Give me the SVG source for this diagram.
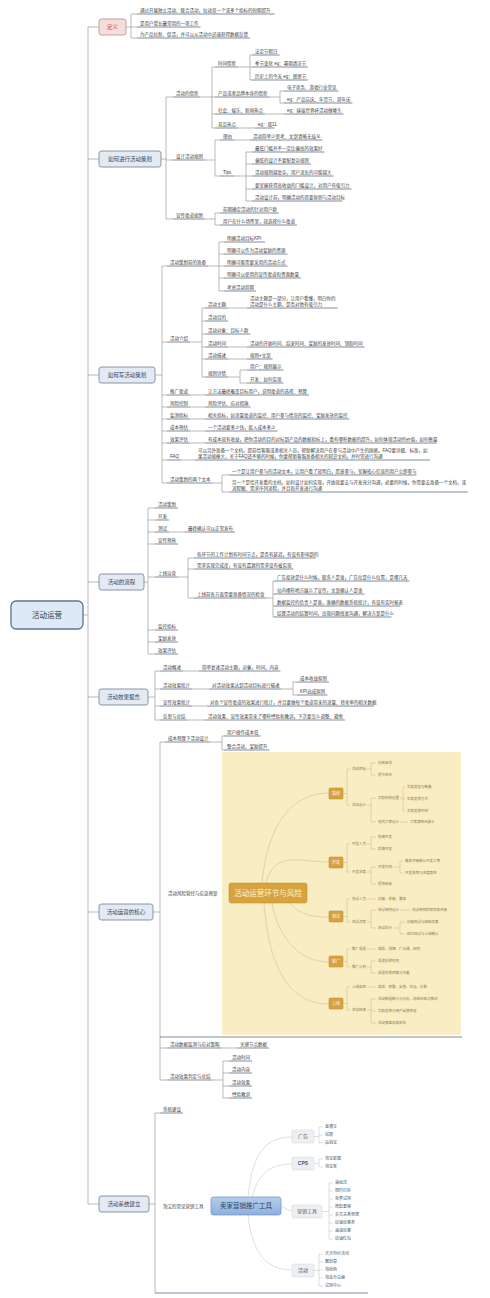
<svg xmlns="http://www.w3.org/2000/svg" width="490" height="1298" viewBox="0 0 490 1298">
<style>
text{font-family:'Liberation Sans','Noto Sans CJK SC',sans-serif}
.t{font-size:4.5px;fill:#3b3b3b}
.h{font-size:5.5px;fill:#2e3f57;text-anchor:middle}
.b{fill:#e3eaf3;stroke:#7a8ba2;stroke-width:0.9}
.u{stroke:#5d6f87;stroke-width:0.8;fill:none}
.c{stroke:#9b9b9b;stroke-width:0.7;fill:none}
.y{font-size:3.5px;fill:#8b7a52}
.yc{stroke:#cbb68a;stroke-width:0.5;fill:none}
.yb{fill:#d6a33f;stroke:#bf8b2b;stroke-width:0.5}
.yt{font-size:4px;fill:#fff8e6;text-anchor:middle}
.gb{fill:#edf0f3;stroke:#cfd5dc;stroke-width:0.5}
.g{font-size:4px;fill:#555}
.gl{font-size:5px;fill:#555;text-anchor:middle}
.gc{stroke:#c4c9cf;stroke-width:0.6;fill:none}
</style>
<rect width="490" height="1298" fill="#ffffff"/>

<g id="connectors">
<path class="c" d="M83 615 H88 M88 27 V1204 M88 27 H99 M88 159 H99 M88 375 H99 M88 582 H99 M88 697 H99 M88 912 H99 M88 1204 H99"/>
<path class="c" d="M126 27 H131 M131 14 V38 M131 14 H137 M131 27 H137 M131 38 H137"/>
<path class="c" d="M161 159 H166 M166 97 V219 M166 97 H173 M166 160 H173 M166 219 H173"/>
<path class="c" d="M200.5 97 H212 M212 67 V128 M212 67 H215 M212 97 H215 M212 114 H215 M212 128 H215"/>
<path class="c" d="M238 67 H250 M250 55 V80 M250 55 H252 M250 67 H252 M250 80 H252"/>
<path class="c" d="M269.5 97 H280 M280 91 V103 M280 91 H284 M280 103 H284"/>
<path class="c" d="M265 114 H284 M238 128 H255"/>
<path class="c" d="M205 160 H215 M215 140 V176 M215 140 H220 M215 176 H220 M234 140 H250"/>
<path class="c" d="M234 176 H246 M246 152 V201 M246 152 H252 M246 164 H252 M246 176 H252 M246 189 H252 M246 201 H252"/>
<path class="c" d="M205 219 H215 M215 213 V225 M215 213 H220 M215 225 H220"/>
<path class="c" d="M155 375 H162 M162 266 V483 M162 266 H167 M162 342 H167 M162 395 H167 M162 407 H167 M162 419 H167 M162 431 H167 M162 443 H167 M162 460 H167 M162 483 H167"/>
<path class="c" d="M208 266 H219 M219 242 V291 M219 242 H224 M219 254 H224 M219 266 H224 M219 278 H224 M219 291 H224"/>
<path class="c" d="M190 342 H202 M202 308 V377 M202 308 H205 M202 321 H205 M202 334 H205 M202 347 H205 M202 359 H205 M202 377 H205"/>
<path class="c" d="M228 308 H247 M228 347 H247 M228 359 H247 M228 377 H240 M240 370 V383 M240 370 H247 M240 383 H247"/>
<path class="c" d="M190 395 H205 M190 407 H205 M190 419 H205 M190 431 H205 M190 443 H205 M181 460 H195"/>
<path class="c" d="M212.5 483 H222 M222 475 V492 M222 475 H229 M222 492 H229"/>
<path class="c" d="M144 582 H148 M148 508 V654 M148 508 H155 M148 520 H155 M148 532 H155 M148 544 H155 M148 577 H155 M148 630 H155 M148 642 H155 M148 654 H155"/>
<path class="c" d="M169 532 H185 M178 577 H188 M188 558 V598 M188 558 H194 M188 569 H194 M188 598 H194"/>
<path class="c" d="M266.5 598 H273 M273 581 V617 M273 581 H274 M273 594 H274 M273 606 H274 M273 617 H274"/>
<path class="c" d="M148 697 H155 M155 671 V720 M155 671 H160 M155 689 H160 M155 706 H160 M155 720 H160"/>
<path class="c" d="M183 671 H199 M192 689 H209 M281.5 689 H293 M293 682 V695 M293 682 H297 M293 695 H297 M192 706 H207 M187.5 720 H205"/>
<path class="c" d="M153 912 H160 M160 742 V1080 M160 742 H165 M160 1048 H167 M160 1080 H167"/>
<path class="c" d="M210.5 742 H222 M222 736 V750 M222 736 H224 M222 750 H224 M221.5 1048 H237"/>
<path class="c" d="M212.5 1080 H223 M223 1061 V1098 M223 1061 H229 M223 1073 H229 M223 1086 H229 M223 1098 H229"/>
<path class="c" d="M149 1204 H155 M155 1113 V1293 M155 1113 H160"/>
</g>

<g id="root">
<rect x="11" y="601" width="72" height="28" rx="5" fill="#dde9f6" stroke="#5f7491" stroke-width="1.3"/>
<text x="47" y="618" style="font-size:7.5px;fill:#2e3f57;text-anchor:middle">活动运营</text>
</g>

<g id="n-def">
<rect x="99" y="19" width="27" height="16" rx="2.5" fill="#f7dcdc" stroke="#b99b9b" stroke-width="0.9"/>
<text x="112.5" y="29" class="h" style="fill:#c0392b">定义</text>
</g>
<g id="n-def-1"><text class="t" x="140" y="11.6">通过开展独立活动、联合活动，拉动某一个或多个指标的短期提升</text><path class="u" d="M137 14 H274.5"/></g>
<g id="n-def-2"><text class="t" x="140" y="24.6">是用户增长最常用的一项工作</text><path class="u" d="M137 27 H200.5"/></g>
<g id="n-def-3"><text class="t" x="140" y="35.6">为产品拉新、促活，并可以从活动中迅速获得数据反馈</text><path class="u" d="M137 38 H250"/></g>

<g id="n-plan">
<rect class="b" x="99" y="151" width="62" height="16" rx="2.5"/>
<text x="130" y="161" class="h">如何进行活动策划</text>
</g>
<g id="n-plan-a"><text class="t" x="176" y="94.6">活动的借势</text><path class="u" d="M173 97 H200.5"/></g>
<g id="n-plan-a1"><text class="t" x="218" y="64.6">时间借势</text><path class="u" d="M215 67 H238"/></g>
<g id="n-plan-a1-1"><text class="t" x="255" y="52.6">法定节假日</text><path class="u" d="M252 55 H279.5"/></g>
<g id="n-plan-a1-2"><text class="t" x="255" y="64.6">季节变化 eg：暑期清凉节</text><path class="u" d="M252 67 H308"/></g>
<g id="n-plan-a1-3"><text class="t" x="255" y="77.6">历史上的今天 eg：感恩节</text><path class="u" d="M252 80 H308"/></g>
<g id="n-plan-a2"><text class="t" x="218" y="94.6">产品或者品牌本身的借势</text><path class="u" d="M215 97 H269.5"/></g>
<g id="n-plan-a2-1"><text class="t" x="287" y="88.6">电子商务、游戏行业常见</text><path class="u" d="M284 91 H338.5"/></g>
<g id="n-plan-a2-2"><text class="t" x="287" y="100.6">eg：产品店庆、年货节、周年庆</text><path class="u" d="M284 103 H352.5"/></g>
<g id="n-plan-a3"><text class="t" x="218" y="111.6">社会、娱乐、新闻热点</text><path class="u" d="M215 114 H265"/></g>
<g id="n-plan-a3-1"><text class="t" x="287" y="111.6">eg：嫁接世界杯活动做噱头</text><path class="u" d="M284 114 H343.5"/></g>
<g id="n-plan-a4"><text class="t" x="218" y="125.6">竞品热点</text><path class="u" d="M215 128 H238"/></g>
<g id="n-plan-a4-1"><text class="t" x="258" y="125.6">eg：双11</text><path class="u" d="M255 128 H274.5"/></g>
<g id="n-plan-b"><text class="t" x="176" y="157.6">设计活动规则</text><path class="u" d="M173 160 H205"/></g>
<g id="n-plan-b1"><text class="t" x="223" y="137.6">理由</text><path class="u" d="M220 140 H234"/></g>
<g id="n-plan-b1-1"><text class="t" x="253" y="137.6">活动简单少思考、文案清晰无歧义</text><path class="u" d="M250 140 H322.5"/></g>
<g id="n-plan-b2"><text class="t" x="223" y="173.6">Tips</text><path class="u" d="M220 176 H234"/></g>
<g id="n-plan-b2-1"><text class="t" x="255" y="149.6">最低门槛并不一定比偏高的效果好</text><path class="u" d="M252 152 H324.5"/></g>
<g id="n-plan-b2-2"><text class="t" x="255" y="161.6">偏低的设计不要配复杂规则</text><path class="u" d="M252 164 H311"/></g>
<g id="n-plan-b2-3"><text class="t" x="255" y="173.6">活动规则越复杂，用户流失的可能越大</text><path class="u" d="M252 176 H333.5"/></g>
<g id="n-plan-b2-4"><text class="t" x="255" y="186.6">要掌握获得高收益的门槛设计，对用户有吸引力</text><path class="u" d="M252 189 H351.5"/></g>
<g id="n-plan-b2-5"><text class="t" x="255" y="198.6">活动设计前，明确活动的首要原则与活动目标</text><path class="u" d="M252 201 H342.5"/></g>
<g id="n-plan-c"><text class="t" x="176" y="216.6">宣传渠道规划</text><path class="u" d="M173 219 H205"/></g>
<g id="n-plan-c1"><text class="t" x="223" y="210.6">前期确定活动的针对用户群</text><path class="u" d="M220 213 H279"/></g>
<g id="n-plan-c2"><text class="t" x="223" y="222.6">用户在什么场所里，就选择什么渠道</text><path class="u" d="M220 225 H297"/></g>

<g id="n-write">
<rect class="b" x="99" y="367" width="56" height="16" rx="2.5"/>
<text x="127" y="377" class="h">如何写活动策划</text>
</g>
<g id="n-write-p"><text class="t" x="170" y="263.6">活动策划前的准备</text><path class="u" d="M167 266 H208"/></g>
<g id="n-write-p1"><text class="t" x="227" y="239.6">明确活动目标KPI</text><path class="u" d="M224 242 H265"/></g>
<g id="n-write-p2"><text class="t" x="227" y="251.6">明确可以作为活动奖励的资源</text><path class="u" d="M224 254 H287.5"/></g>
<g id="n-write-p3"><text class="t" x="227" y="263.6">明确可能需要采用的活动方式</text><path class="u" d="M224 266 H287.5"/></g>
<g id="n-write-p4"><text class="t" x="227" y="275.6">明确可以使用的宣传渠道和资源数量</text><path class="u" d="M224 278 H301"/></g>
<g id="n-write-p5"><text class="t" x="227" y="288.6">考虑活动周期</text><path class="u" d="M224 291 H256"/></g>
<g id="n-write-q"><text class="t" x="170" y="339.6">活动介绍</text><path class="u" d="M167 342 H190"/></g>
<g id="n-write-q1"><text class="t" x="208" y="305.6">活动主题</text><path class="u" d="M205 308 H228"/></g>
<g id="n-write-q1-1"><text class="t" x="250" y="299.5">活动主题是一部分，让用户看懂，明白你的</text><text class="t" x="250" y="305.5">活动是什么主题，是否对他有吸引力</text><path class="u" d="M247 308 H337.5"/></g>
<g id="n-write-q2"><text class="t" x="208" y="318.6">活动目的</text><path class="u" d="M205 321 H228"/></g>
<g id="n-write-q3"><text class="t" x="208" y="331.6">活动对象：目标人群</text><path class="u" d="M205 334 H250.5"/></g>
<g id="n-write-q4"><text class="t" x="208" y="344.6">活动时间</text><path class="u" d="M205 347 H228"/></g>
<g id="n-write-q4-1"><text class="t" x="250" y="344.6">活动的开始时间、结束时间、奖励的发放时间、领取时间</text><path class="u" d="M247 347 H364.5"/></g>
<g id="n-write-q5"><text class="t" x="208" y="356.6">活动描述</text><path class="u" d="M205 359 H228"/></g>
<g id="n-write-q5-1"><text class="t" x="250" y="356.6">规则+文案</text><path class="u" d="M247 359 H272.6"/></g>
<g id="n-write-q6"><text class="t" x="208" y="374.6">规则详情</text><path class="u" d="M205 377 H228"/></g>
<g id="n-write-q6-1"><text class="t" x="250" y="367.6">用户：规则展示</text><path class="u" d="M247 370 H283.5"/></g>
<g id="n-write-q6-2"><text class="t" x="250" y="380.6">开发：如何实现</text><path class="u" d="M247 383 H283.5"/></g>
<g id="n-write-r"><text class="t" x="170" y="392.6">推广渠道</text><path class="u" d="M167 395 H190"/></g>
<g id="n-write-r1"><text class="t" x="208" y="392.6">让方法最终覆盖目标用户，说明渠道的选择、预算</text><path class="u" d="M205 395 H309"/></g>
<g id="n-write-s"><text class="t" x="170" y="404.6">风险控制</text><path class="u" d="M167 407 H190"/></g>
<g id="n-write-s1"><text class="t" x="208" y="404.6">风险评估、应对措施</text><path class="u" d="M205 407 H250.5"/></g>
<g id="n-write-t"><text class="t" x="170" y="416.6">监测指标</text><path class="u" d="M167 419 H190"/></g>
<g id="n-write-t1"><text class="t" x="208" y="416.6">相关指标，如流量渠道的监控、用户参与情况的监控、奖励发放的监控</text><path class="u" d="M205 419 H349.5"/></g>
<g id="n-write-u"><text class="t" x="170" y="428.6">成本预估</text><path class="u" d="M167 431 H190"/></g>
<g id="n-write-u1"><text class="t" x="208" y="428.6">一个活动要多少钱，投入成本多少</text><path class="u" d="M205 431 H277.5"/></g>
<g id="n-write-v"><text class="t" x="170" y="440.6">效果评估</text><path class="u" d="M167 443 H190"/></g>
<g id="n-write-v1"><text class="t" x="208" y="440.6">有成本就有收益，把你活动的目的对标到产品的数据指标上，看有哪些数据的提升，如何体现活动的价值，如何衡量</text><path class="u" d="M205 443 H437"/></g>
<g id="n-write-w"><text class="t" x="170" y="457.6">FAQ</text><path class="u" d="M167 460 H181"/></g>
<g id="n-write-w1"><text class="t" x="198" y="451.5">可以另外准备一个文档，提前给客服或者相关人员，帮助解决用户在参与活动中产生的困惑。FAQ要详细、标准，如</text><text class="t" x="198" y="457.5">果活动规模大，关于FAQ还不够的时候，你要帮助客服准备相关的知识文档，并时常进行沟通</text><path class="u" d="M195 460 H430"/></g>
<g id="n-write-x"><text class="t" x="170" y="480.6">活动策划的两个文本</text><path class="u" d="M167 483 H212.5"/></g>
<g id="n-write-x1"><text class="t" x="232" y="472.6">一个是让用户参与的活动文本，让用户看了就明白，愿意参与，掌握核心信息的用户立即参与</text><path class="u" d="M229 475 H416.5"/></g>
<g id="n-write-x2"><text class="t" x="232" y="483.5">另一个是给开发看的文档，如何设计如何实现，开始就要去与开发充分沟通，必要的时候，你需要去准备一个文档，或</text><text class="t" x="232" y="489.5">流程图、需求序列流程，并且和开发进行沟通</text><path class="u" d="M229 492 H468"/></g>

<g id="n-flow">
<rect class="b" x="99" y="574" width="45" height="16" rx="2.5"/>
<text x="121.5" y="584" class="h">活动的流程</text>
</g>
<g id="n-flow-1"><text class="t" x="158" y="505.6">活动策划</text><path class="u" d="M155 508 H178"/></g>
<g id="n-flow-2"><text class="t" x="158" y="517.6">开发</text><path class="u" d="M155 520 H169"/></g>
<g id="n-flow-3"><text class="t" x="158" y="529.6">测试</text><path class="u" d="M155 532 H169"/></g>
<g id="n-flow-3-1"><text class="t" x="188" y="529.6">最终确认可以正常发布</text><path class="u" d="M185 532 H235"/></g>
<g id="n-flow-4"><text class="t" x="158" y="541.6">宣传预热</text><path class="u" d="M155 544 H178"/></g>
<g id="n-flow-5"><text class="t" x="158" y="574.6">上线运营</text><path class="u" d="M155 577 H178"/></g>
<g id="n-flow-5-1"><text class="t" x="197" y="555.6">各环节的工作计划有时间节点，是否有延迟，有没有影响到的</text><path class="u" d="M194 558 H316"/></g>
<g id="n-flow-5-2"><text class="t" x="197" y="566.6">需求实现完成度，有没有遗漏的需求没有被实现</text><path class="u" d="M194 569 H293.5"/></g>
<g id="n-flow-5-3"><text class="t" x="197" y="595.6">上线前各方面需要准备情况的检查</text><path class="u" d="M194 598 H266.5"/></g>
<g id="n-flow-5-3-1"><text class="t" x="277" y="578.6">广告投放是什么时候，联系人是谁，广告位是什么位置，是哪几天</text><path class="u" d="M274 581 H409.5"/></g>
<g id="n-flow-5-3-2"><text class="t" x="277" y="591.6">站内哪些地方展示了宣传，文案确认人是谁</text><path class="u" d="M274 594 H364.5"/></g>
<g id="n-flow-5-3-3"><text class="t" x="277" y="603.6">数据监控的负责人是谁，准确的数据系统统计，有没有实时报表</text><path class="u" d="M274 606 H400.5"/></g>
<g id="n-flow-5-3-4"><text class="t" x="277" y="614.6">结算活动的结算时间，出现问题找谁沟通，解决方案是什么</text><path class="u" d="M274 617 H391.5"/></g>
<g id="n-flow-6"><text class="t" x="158" y="627.6">监控指标</text><path class="u" d="M155 630 H178"/></g>
<g id="n-flow-7"><text class="t" x="158" y="639.6">奖励发放</text><path class="u" d="M155 642 H178"/></g>
<g id="n-flow-8"><text class="t" x="158" y="651.6">效果评估</text><path class="u" d="M155 654 H178"/></g>

<g id="n-report">
<rect class="b" x="99" y="689" width="49" height="16" rx="2.5"/>
<text x="123.5" y="699" class="h">活动效果报告</text>
</g>
<g id="n-report-1"><text class="t" x="163" y="668.6">活动概述</text><path class="u" d="M160 671 H183"/></g>
<g id="n-report-1-1"><text class="t" x="202" y="668.6">简单复述活动主题，对象，时间，内容</text><path class="u" d="M199 671 H280.5"/></g>
<g id="n-report-2"><text class="t" x="163" y="686.6">活动效果统计</text><path class="u" d="M160 689 H192"/></g>
<g id="n-report-2-1"><text class="t" x="212" y="686.6">对活动效果达到活动目标进行描述</text><path class="u" d="M209 689 H281.5"/></g>
<g id="n-report-2-1-1"><text class="t" x="300" y="679.6">成本收益原则</text><path class="u" d="M297 682 H329"/></g>
<g id="n-report-2-1-2"><text class="t" x="300" y="692.6">KPI达成原则</text><path class="u" d="M297 695 H327.5"/></g>
<g id="n-report-3"><text class="t" x="163" y="703.6">宣传效果统计</text><path class="u" d="M160 706 H192"/></g>
<g id="n-report-3-1"><text class="t" x="210" y="703.6">对各个宣传渠道的效果进行统计，并且要做每个渠道带来的流量、转化率的相关数据</text><path class="u" d="M207 706 H374"/></g>
<g id="n-report-4"><text class="t" x="163" y="717.6">反思与总结</text><path class="u" d="M160 720 H187.5"/></g>
<g id="n-report-4-1"><text class="t" x="208" y="717.6">活动效果、宣传效果带来了哪些经验和教训，下次要怎么调整、避免</text><path class="u" d="M205 720 H345"/></g>

<g id="n-core">
<rect class="b" x="99" y="904" width="54" height="16" rx="2.5"/>
<text x="126" y="914" class="h">活动运营的核心</text>
</g>
<g id="n-core-1"><text class="t" x="168" y="739.6">成本预算下活动设计</text><path class="u" d="M165 742 H210.5"/></g>
<g id="n-core-1-1"><text class="t" x="227" y="733.6">用户操作成本低</text><path class="u" d="M224 736 H260.5"/></g>
<g id="n-core-1-2"><text class="t" x="227" y="747.6">整合活动、奖励提升</text><path class="u" d="M224 750 H269.5"/></g>
<g id="n-core-2">
<text class="t" x="168" y="894.6">活动风险管控与应急预案</text>
<path class="u" d="M160 1037 H462"/>
</g>
<g id="n-core-2-image">
<rect x="222" y="752" width="239" height="283" fill="#f8edc3"/>
<path class="yc" d="M262 883 C268 820 295 793 329 793 M266 883 C274 850 300 862 329 862 M290 903 C300 915 312 917 329 917 M272 903 C280 945 305 962 329 962 M264 903 C270 985 300 1004 329 1004"/>
<rect class="yb" x="229" y="883" width="78" height="20" rx="2"/>
<text x="268" y="895.8" style="font-size:7.5px;fill:#fff3d0;text-anchor:middle">活动运营环节与风险</text>
<rect class="yb" x="329" y="788" width="14" height="11" rx="1"/><text class="yt" x="336" y="795">策划</text>
<rect class="yb" x="329" y="857" width="14" height="11" rx="1"/><text class="yt" x="336" y="864">开发</text>
<rect class="yb" x="329" y="911" width="14" height="11" rx="1"/><text class="yt" x="336" y="918">测试</text>
<rect class="yb" x="329" y="956" width="14" height="11" rx="1"/><text class="yt" x="336" y="963">推广</text>
<rect class="yb" x="329" y="998" width="14" height="11" rx="1"/><text class="yt" x="336" y="1005">上线</text>
<path class="yc" d="M343 793.5 H347 M347 769 V805 M347 769 H350 M347 805 H350 M367 769 H371 M371 763 V775 M371 763 H376 M371 775 H376 M367 805 H371 M371 798 V822 M371 798 H376 M371 822 H376 M400 798 H403 M403 787 V811 M403 787 H405 M403 799 H405 M403 811 H405 M400 822 H408"/>
<text class="y" x="352" y="770.2">活动目标</text>
<text class="y" x="378" y="764.2">拉新促活</text>
<text class="y" x="378" y="776.2">提升转化</text>
<text class="y" x="352" y="806.2">活动设计</text>
<text class="y" x="378" y="799.2">奖励机制设置</text>
<text class="y" x="407" y="788.2">奖励类型与数量</text>
<text class="y" x="407" y="800.2">奖励发放方式</text>
<text class="y" x="407" y="812.2">奖励发放时间</text>
<text class="y" x="378" y="823.2">规则文案设计</text>
<text class="y" x="410" y="823.2">文案清晰无歧义</text>
<path class="yc" d="M343 862.5 H347 M347 844 V872 M347 844 H350 M347 872 H350 M367 844 H371 M371 837 V849 M371 837 H376 M371 849 H376 M367 872 H371 M371 867 V884 M371 867 H376 M371 884 H376 M393 867 H400 M400 861 V873 M400 861 H403 M400 873 H403"/>
<text class="y" x="352" y="845.2">开发人员</text>
<text class="y" x="378" y="838.2">前端开发</text>
<text class="y" x="378" y="850.2">后端开发</text>
<text class="y" x="352" y="873.2">开发进度</text>
<text class="y" x="378" y="868.2">开发时间</text>
<text class="y" x="405" y="862.2">需求评审确认开发工期</text>
<text class="y" x="405" y="874.2">开发排期与进度跟进</text>
<text class="y" x="378" y="885.2">提测验收</text>
<path class="yc" d="M343 916.5 H347 M347 899 V922 M347 899 H350 M347 922 H350 M367 899 H376 M367 922 H371 M371 910 V928 M371 910 H376 M371 928 H376 M400 910 H410 M393 928 H400 M400 922 V934 M400 922 H405 M400 934 H405"/>
<text class="y" x="352" y="900.2">测试人员</text>
<text class="y" x="378" y="900.2">功能、性能、兼容</text>
<text class="y" x="352" y="923.2">测试流程</text>
<text class="y" x="378" y="911.2">测试用例设计</text>
<text class="y" x="412" y="911.2">测试用例的编写和评审</text>
<text class="y" x="378" y="929.2">测试执行</text>
<text class="y" x="407" y="923.2">功能测试与缺陷修复</text>
<text class="y" x="407" y="935.2">回归测试与上线确认</text>
<path class="yc" d="M343 961.5 H347 M347 949 V967 M347 949 H350 M347 967 H350 M367 949 H376 M367 967 H371 M371 961 V973 M371 961 H376 M371 973 H376"/>
<text class="y" x="352" y="950.2">推广渠道</text>
<text class="y" x="378" y="950.2">微信、微博、广点通、贴吧</text>
<text class="y" x="352" y="968.2">推广计划</text>
<text class="y" x="378" y="962.2">渠道投放时间</text>
<text class="y" x="378" y="974.2">渠道投放预算与节奏</text>
<path class="yc" d="M343 1003.5 H347 M347 987 V1010 M347 987 H350 M347 1010 H350 M367 987 H376 M367 1010 H371 M371 999 V1023 M371 999 H376 M371 1011 H376 M371 1023 H376"/>
<text class="y" x="352" y="988.2">上线监控</text>
<text class="y" x="378" y="988.2">监控、预警、反馈、应急、补救</text>
<text class="y" x="352" y="1011.2">活动结束</text>
<text class="y" x="378" y="1000.2">活动数据统计与分析，总结经验与教训</text>
<text class="y" x="378" y="1012.2">奖励发放与用户反馈处理</text>
<text class="y" x="378" y="1024.2">活动复盘总结报告</text>
</g>
<g id="n-core-3"><text class="t" x="170" y="1045.6">活动数据监测与应对策略</text><path class="u" d="M167 1048 H221.5"/></g>
<g id="n-core-3-1"><text class="t" x="240" y="1045.6">关键节点数据</text><path class="u" d="M237 1048 H269"/></g>
<g id="n-core-4"><text class="t" x="170" y="1077.6">活动效果判定与总结</text><path class="u" d="M167 1080 H212.5"/></g>
<g id="n-core-4-1"><text class="t" x="232" y="1058.6">活动时间</text><path class="u" d="M229 1061 H252"/></g>
<g id="n-core-4-2"><text class="t" x="232" y="1070.6">活动内容</text><path class="u" d="M229 1073 H252"/></g>
<g id="n-core-4-3"><text class="t" x="232" y="1083.6">活动效果</text><path class="u" d="M229 1086 H252"/></g>
<g id="n-core-4-4"><text class="t" x="232" y="1095.6">经验教训</text><path class="u" d="M229 1098 H252"/></g>

<g id="n-sys">
<rect class="b" x="99" y="1196" width="50" height="16" rx="2.5"/>
<text x="124" y="1206" class="h">活动系统建立</text>
</g>
<g id="n-sys-1"><text class="t" x="163" y="1110.6">系统建设</text><path class="u" d="M160 1113 H183"/></g>
<g id="n-sys-2">
<text class="t" x="163" y="1207.6">淘宝的常见营销工具</text>
<path class="u" d="M155 1293 H368"/>
</g>
<g id="n-sys-2-image">
<path class="gc" d="M248 1198 C252 1150 268 1137 292 1137 M252 1198 C258 1172 272 1164 292 1164 M281 1206 C286 1208 288 1211 292 1211 M248 1215 C252 1255 268 1270 292 1270"/>
<defs><linearGradient id="blueg" x1="0" y1="0" x2="0" y2="1"><stop offset="0" stop-color="#b4cdeb"/><stop offset="1" stop-color="#8eb0dc"/></linearGradient></defs>
<rect x="211" y="1197" width="70" height="18" rx="2.5" fill="url(#blueg)" stroke="#6d91c2" stroke-width="0.7"/>
<text x="246" y="1208.3" style="font-size:6.5px;fill:#27466f;text-anchor:middle">卖家营销推广工具</text>
<rect class="gb" x="292" y="1130" width="22" height="13" rx="1.5"/><text class="gl" x="303" y="1138.3">广告</text>
<rect class="gb" x="292" y="1157" width="22" height="13" rx="1.5"/><text class="gl" x="303" y="1165.3" style="font-weight:bold">CPS</text>
<rect class="gb" x="292" y="1205" width="30" height="13" rx="1.5"/><text class="gl" x="307" y="1213.3">营销工具</text>
<rect class="gb" x="292" y="1264" width="22" height="13" rx="1.5"/><text class="gl" x="303" y="1272.3">活动</text>
<path class="gc" d="M314 1136.5 H319 M319 1127 V1143 M319 1127 H323 M319 1135 H323 M319 1143 H323"/>
<text class="g" x="325" y="1128.4">直通车</text>
<text class="g" x="325" y="1136.4">钻展</text>
<text class="g" x="325" y="1144.4">品销宝</text>
<path class="gc" d="M314 1163.5 H319 M319 1159 V1167 M319 1159 H323 M319 1167 H323"/>
<text class="g" x="325" y="1160.4">淘宝联盟</text>
<text class="g" x="325" y="1168.4">淘宝客</text>
<path class="gc" d="M322 1211.5 H329 M329 1183 V1239 M329 1183 H333 M329 1191 H333 M329 1199 H333 M329 1207 H333 M329 1215 H333 M329 1223 H333 M329 1231 H333 M329 1239 H333"/>
<text class="g" x="335" y="1184.4">满就送</text>
<text class="g" x="335" y="1192.4">限时打折</text>
<text class="g" x="335" y="1200.4">免费试用</text>
<text class="g" x="335" y="1208.4">搭配套餐</text>
<text class="g" x="335" y="1216.4">会员关系管理</text>
<text class="g" x="335" y="1224.4">店铺优惠券</text>
<text class="g" x="335" y="1232.4">满减优惠</text>
<text class="g" x="335" y="1240.4">店铺红包</text>
<path class="gc" d="M314 1270.5 H319 M319 1254 V1286 M319 1254 H323 M319 1262 H323 M319 1270 H323 M319 1278 H323 M319 1286 H323"/>
<text class="g" x="325" y="1255.4">天天特价活动</text>
<text class="g" x="325" y="1263.4">聚划算</text>
<text class="g" x="325" y="1271.4">淘抢购</text>
<text class="g" x="325" y="1279.4">淘金币兑换</text>
<text class="g" x="325" y="1287.4">试用中心</text>
</g>
</svg>
